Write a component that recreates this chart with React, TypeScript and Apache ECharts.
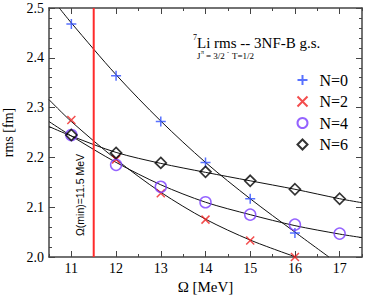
import React, { useEffect, useRef } from "react";
import * as echarts from "echarts";

const omega = [11, 12, 13, 14, 15, 16, 17];
const n0 = [2.468, 2.364, 2.272, 2.19, 2.117, 2.048];
const n2 = [2.275, 2.196, 2.128, 2.075, 2.033, 2.0];
const n4 = [2.245, 2.185, 2.141, 2.11, 2.085, 2.065, 2.047];
const n6 = [2.245, 2.209, 2.189, 2.171, 2.153, 2.136, 2.117];

// fit curves
const fit0X = [10.73, 11, 12, 13, 14, 15, 16, 16.76];
const fit0Y = [2.5, 2.47, 2.366, 2.273, 2.19, 2.117, 2.05, 2.0];
const fit2X = [10.5, 11, 12, 13, 14, 15, 16.02];
const fit2Y = [2.316, 2.272, 2.196, 2.13, 2.076, 2.034, 2.0];
const fit4X = [10.5, 11, 12, 13, 14, 15, 16, 17, 17.5];
const fit4Y = [2.272, 2.243, 2.19, 2.145, 2.11, 2.085, 2.063, 2.046, 2.039];
const fit6X = [10.5, 11, 12, 13, 14, 15, 16, 17, 17.5];
const fit6Y = [2.262, 2.243, 2.21, 2.188, 2.17, 2.153, 2.136, 2.117, 2.109];

const omegaMin = 11.5;
const xTickLabels = [11, 12, 13, 14, 15, 16, 17];

const SERIF = "Liberation Serif";
const AX = "#444";

const pair = (xs: number[], ys: number[]) => ys.map((y, i) => [xs[i], y]);

export default function App() {
  const ref = useRef<HTMLDivElement>(null);
  useEffect(() => {
    if (!ref.current) return;
    const chart = echarts.init(ref.current, null, { renderer: "svg" });
    const base = {
      type: "value" as const,
      min: 10.5,
      max: 17.5,
      splitLine: { show: false },
    };
    const yBase = {
      type: "value" as const,
      min: 2.0,
      max: 2.5,
      interval: 0.1,
      splitLine: { show: false },
      axisLine: { show: true, lineStyle: { color: AX, width: 1.5 } },
      axisTick: { show: true, inside: true, length: 6, lineStyle: { color: AX } },
      minorTick: { show: true, splitNumber: 5, length: 3, lineStyle: { color: AX } },
    };
    const fitLine = (xs: number[], ys: number[]) => ({
      type: "line",
      data: pair(xs, ys),
      smooth: 0.3,
      showSymbol: false,
      symbol: "none",
      lineStyle: { color: "#111", width: 1 },
      z: 1,
      silent: true,
    });
    const option: any = {
      animation: false,
      textStyle: { fontFamily: SERIF },
      grid: { left: 49, right: 20, top: 8, bottom: 38, containLabel: false, outerBoundsMode: "none" },
      xAxis: [
        {
          ...base,
          position: "bottom",
          interval: 0.5,
          axisLine: { show: true, lineStyle: { color: AX, width: 1.5 } },
          axisTick: { show: true, inside: true, length: 3, lineStyle: { color: AX } },
          axisLabel: { show: false },
        },
        {
          ...base,
          position: "bottom",
          axisLine: { show: false },
          axisTick: { show: true, inside: true, length: 6, customValues: xTickLabels, lineStyle: { color: AX } },
          axisLabel: {
            show: true,
            customValues: xTickLabels,
            fontFamily: SERIF,
            fontSize: 14,
            color: "#000",
            margin: 4,
          },
          name: "Ω [MeV]",
          nameLocation: "middle",
          nameGap: 22,
          nameTextStyle: { fontFamily: SERIF, fontSize: 15, color: "#000" },
        },
        {
          ...base,
          position: "top",
          interval: 0.5,
          axisLine: { show: true, lineStyle: { color: AX, width: 1.5 } },
          axisTick: { show: true, inside: true, length: 3, lineStyle: { color: AX } },
          axisLabel: { show: false },
        },
        {
          ...base,
          position: "top",
          axisLine: { show: false },
          axisTick: { show: true, inside: true, length: 6, customValues: xTickLabels, lineStyle: { color: AX } },
          axisLabel: { show: false },
        },
      ],
      yAxis: [
        {
          ...yBase,
          position: "left",
          axisLabel: {
            show: true,
            fontFamily: SERIF,
            fontSize: 14,
            color: "#000",
            margin: 5,
            formatter: (v: number) => v.toFixed(1),
          },
          name: "rms [fm]",
          nameLocation: "middle",
          nameGap: 32,
          nameRotate: 90,
          nameTextStyle: { fontFamily: SERIF, fontSize: 14, color: "#000" },
        },
        {
          ...yBase,
          position: "right",
          axisLabel: { show: false },
        },
      ],
      legend: {
        orient: "vertical",
        left: 290,
        top: 67,
        itemWidth: 10,
        itemHeight: 10,
        itemGap: 5.5,
        data: ["N=0", "N=2", "N=4", "N=6"],
        textStyle: { fontFamily: SERIF, fontSize: 16, color: "#000", padding: [0, 0, 0, 7] },
      },
      series: [
        fitLine(fit0X, fit0Y),
        fitLine(fit2X, fit2Y),
        fitLine(fit4X, fit4Y),
        fitLine(fit6X, fit6Y),
        {
          type: "line",
          data: [
            [omegaMin, 2.0],
            [omegaMin, 2.5],
          ],
          showSymbol: false,
          symbol: "none",
          lineStyle: { color: "#ff2a2a", width: 2 },
          z: 2,
          silent: true,
        },
        {
          name: "N=0",
          type: "scatter",
          data: pair(omega, n0),
          symbol: "path://M5,0 L5,10 M0,5 L10,5",
          symbolSize: 10,
          itemStyle: { color: "none", borderColor: "#2e4dff", borderWidth: 1.5 },
          z: 5,
        },
        {
          name: "N=2",
          type: "scatter",
          data: pair(omega, n2),
          symbol: "path://M0,0 L10,10 M10,0 L0,10",
          symbolSize: 8,
          itemStyle: { color: "none", borderColor: "#f02020", borderWidth: 1.5 },
          z: 5,
        },
        {
          name: "N=4",
          type: "scatter",
          data: pair(omega, n4),
          symbol: "circle",
          symbolSize: 11,
          itemStyle: { color: "rgba(0,0,0,0)", borderColor: "#7a3cff", borderWidth: 1.5 },
          z: 5,
        },
        {
          name: "N=6",
          type: "scatter",
          data: pair(omega, n6),
          symbol: "diamond",
          symbolSize: 11,
          itemStyle: { color: "rgba(0,0,0,0)", borderColor: "#000", borderWidth: 1.7 },
          z: 6,
        },
      ],
      graphic: [
        {
          type: "text",
          left: 193,
          top: 33,
          style: { text: "7", font: `8px ${SERIF}`, fill: "#000" },
        },
        {
          type: "text",
          left: 197,
          top: 35,
          style: { text: "Li rms -- 3NF-B g.s.", font: `15px ${SERIF}`, fill: "#000" },
        },
        {
          type: "text",
          left: 197,
          top: 51,
          style: { text: "J", font: `9px ${SERIF}`, fill: "#000" },
        },
        {
          type: "text",
          left: 201,
          top: 49,
          style: { text: "π", font: `6px ${SERIF}`, fill: "#000" },
        },
        {
          type: "text",
          left: 206,
          top: 51,
          style: { text: "= 3/2", font: `9px ${SERIF}`, fill: "#000" },
        },
        {
          type: "text",
          left: 227,
          top: 49,
          style: { text: "-", font: `6px ${SERIF}`, fill: "#000" },
        },
        {
          type: "text",
          left: 232,
          top: 51,
          style: { text: "T=1/2", font: `9px ${SERIF}`, fill: "#000" },
        },
        {
          type: "text",
          x: 80,
          y: 195,
          rotation: Math.PI / 2,
          style: {
            text: "Ω(min)=11.5 MeV",
            font: `10.5px 'Liberation Sans', Arial, sans-serif`,
            fill: "#000",
            align: "center",
            verticalAlign: "middle",
          },
        },
      ],
    };
    chart.setOption(option);
    return () => chart.dispose();
  }, []);
  return (
    <div
      ref={ref}
      style={{ position: "absolute", left: 0, top: 0, width: 382, height: 295 }}
    />
  );
}
